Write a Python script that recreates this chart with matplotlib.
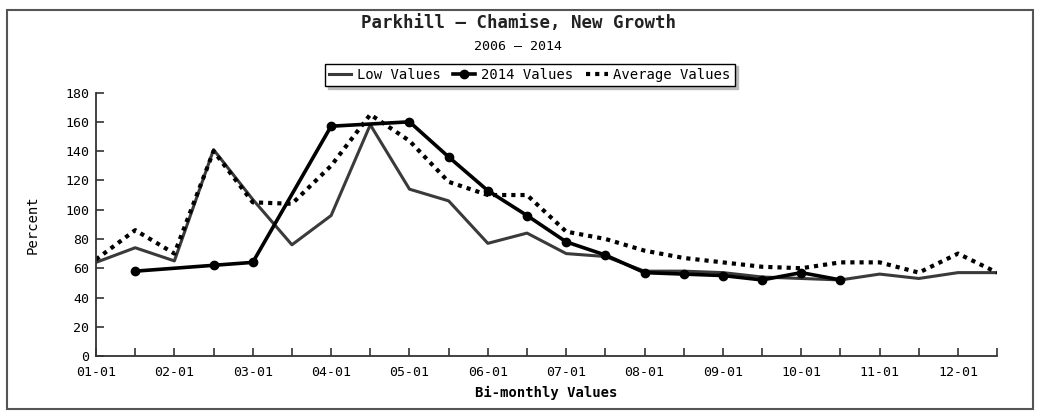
import numpy as np
import matplotlib.pyplot as plt
from matplotlib.patches import Rectangle

# bi-monthly positions: 0 = 01-01, 0.5 = 01-15, ...
months = ['01-01', '02-01', '03-01', '04-01', '05-01', '06-01',
          '07-01', '08-01', '09-01', '10-01', '11-01', '12-01']
pos = np.arange(24) / 2.0

low_vals = [64, 74, 65, 141, 107, 76, 96, 158, 114, 106, 77, 84,
            70, 68, 58, 58, 57, 54, 53, 52, 56, 53, 57, 57]
avg_vals = [66, 86, 70, 140, 105, 104, 130, 165, 147, 119, 110, 110,
            85, 80, 72, 67, 64, 61, 60, 64, 64, 57, 70, 57]
# 2014 values: (position index, value), gaps where no reading
idx_2014 = [1, 3, 4, 6, 8, 9, 10, 11, 12, 13, 14, 15, 16, 17, 18, 19]
vals_2014 = [58, 62, 64, 157, 160, 136, 113, 96, 78, 69, 57, 56, 55, 52, 57, 52]

mono = 'DejaVu Sans Mono'
plt.rcParams['font.family'] = mono

fig = plt.figure(figsize=(10.37, 4.15), dpi=100)
ax = fig.add_axes([0.0926, 0.142, 0.869, 0.635])

ax.plot(pos, low_vals, color='#3a3a3a', lw=2.2, label='Low Values')
ax.plot(pos[idx_2014], vals_2014, color='black', lw=2.6, marker='o',
        markersize=6, label='2014 Values')
ax.plot(pos, avg_vals, color='black', lw=3, linestyle=(0, (1, 1.2)),
        label='Average Values')

ax.set_xlim(0, 11.5)
ax.set_ylim(0, 180)
ax.set_yticks(np.arange(0, 181, 20))
ax.set_xticks(pos, minor=True)
ax.set_xticks(np.arange(12))
ax.set_xticklabels(months)
ax.tick_params(axis='both', direction='in', length=6, width=1.2,
               labelsize=9.5, color='#333333')
ax.tick_params(axis='x', pad=7)
ax.tick_params(axis='y', pad=5)
ax.tick_params(axis='x', which='minor', direction='in', length=6, width=1.2,
               color='#333333')
for s in ['top', 'right']:
    ax.spines[s].set_visible(False)
for s in ['left', 'bottom']:
    ax.spines[s].set_linewidth(1.3)
    ax.spines[s].set_color('#333333')

ax.set_xlabel('Bi-monthly Values', fontsize=10, fontweight='bold', labelpad=5)
ax.set_ylabel('Percent', fontsize=10, labelpad=18)

fig.text(0.5, 0.945, 'Parkhill \u2013 Chamise, New Growth', ha='center',
         va='center', fontsize=12.5, fontweight='bold', color='#222222')
fig.text(0.5, 0.888, '2006 \u2013 2014', ha='center', va='center', fontsize=9.5)

leg = fig.legend(loc='center', bbox_to_anchor=(0.511, 0.82), ncol=3,
                 fontsize=10, frameon=True, fancybox=False,
                 shadow={'color': '#bbbbbb', 'alpha': 1.0},
                 handlelength=1.6, handletextpad=0.4, columnspacing=0.9,
                 borderpad=0.3)
leg.get_frame().set_edgecolor('black')
leg.get_frame().set_linewidth(1.0)

fig.patches.append(Rectangle((0.007, 0.015), 0.989, 0.96, transform=fig.transFigure,
                             fill=False, edgecolor='#555555', lw=1.5))

plt.savefig('out.png', dpi=100)
